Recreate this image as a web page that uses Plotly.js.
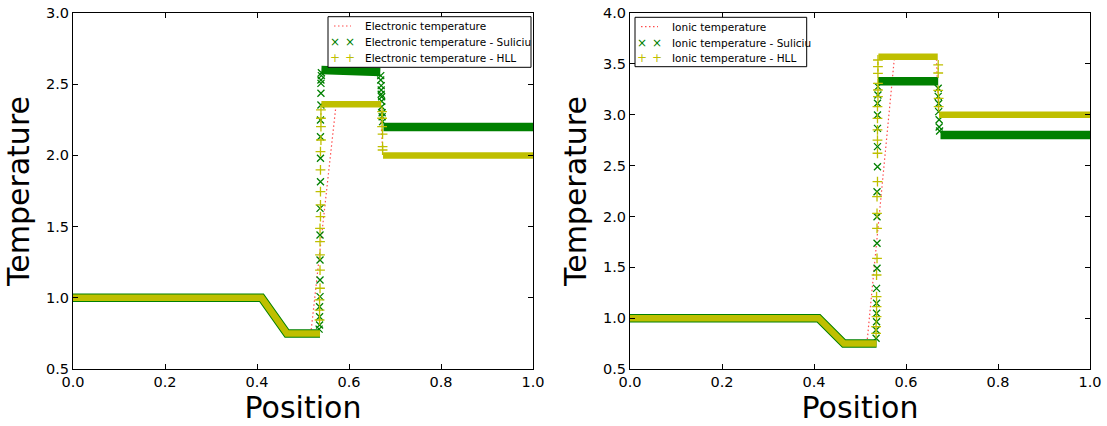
<!DOCTYPE html>
<html>
<head>
<meta charset="utf-8">
<script src="https://cdn.plot.ly/plotly-3.0.1.min.js"></script>
<style>html,body{margin:0;padding:0;background:#fff}#chart{width:1107px;height:426px}</style>
</head>
<body>
<div id="chart"></div>
<script>
// ---------- Left panel: electronic temperature ----------
// exact solution (dotted red)
const elecExactX = [0, 0.41, 0.465, 0.517, 0.572, 0.667, 0.674, 1.0];
const elecExactY = [1.0, 1.0, 0.75, 0.75, 2.36, 2.36, 2.0, 2.0];
// Suliciu plateaus (dense band of markers)
const elecSulBandX = [0, 0.41, 0.465, 0.537, null, 0.540, 0.668, null, 0.675, 1.0];
const elecSulBandY = [1.0, 1.0, 0.75, 0.75, null, 2.60, 2.585, null, 2.2, 2.2];
// Suliciu isolated points in jumps
const elecSulPtsX = [0.535, 0.536, 0.536, 0.536, 0.537, 0.537, 0.537, 0.537, 0.537, 0.538, 0.538, 0.538, 0.538, 0.539, 0.539, 0.539, 0.539, 0.540, 0.540,
                     0.669, 0.669, 0.670, 0.670, 0.670, 0.671, 0.671, 0.671, 0.672, 0.672, 0.673];
const elecSulPtsY = [0.78, 0.809, 0.867, 0.937, 1.008, 1.125, 1.265, 1.441, 1.628, 1.815, 1.980, 2.131, 2.249, 2.354, 2.436, 2.506, 2.529, 2.56, 2.58,
                     2.56, 2.529, 2.49, 2.459, 2.43, 2.412, 2.38, 2.342, 2.30, 2.272, 2.237];
// HLL plateaus
const elecHllBandX = [0, 0.41, 0.465, 0.537, null, 0.540, 0.670, null, 0.674, 1.0];
const elecHllBandY = [1.0, 1.0, 0.75, 0.75, null, 2.36, 2.36, null, 2.0, 2.0];
const elecHllPtsX = [0.536, 0.536, 0.536, 0.537, 0.537, 0.537, 0.537, 0.537, 0.538, 0.538, 0.538, 0.538, 0.538, 0.539, 0.539, 0.539, 0.539,
                     0.672, 0.672, 0.672, 0.673, 0.673, 0.673];
const elecHllPtsY = [0.844, 0.914, 0.985, 1.067, 1.195, 1.301, 1.394, 1.488, 1.570, 1.652, 1.745, 1.898, 2.026, 2.108, 2.202, 2.261, 2.319,
                     2.308, 2.261, 2.202, 2.15, 2.062, 2.038];

// ---------- Right panel: ionic temperature ----------
const ionExactX = [0, 0.41, 0.465, 0.515, 0.575, 0.666, 0.671, 1.0];
const ionExactY = [1.0, 1.0, 0.75, 0.75, 3.57, 3.57, 3.0, 3.0];
const ionSulBandX = [0, 0.41, 0.465, 0.536, null, 0.539, 0.670, null, 0.675, 1.0];
const ionSulBandY = [1.0, 1.0, 0.75, 0.75, null, 3.33, 3.33, null, 2.80, 2.80];
const ionSulPtsX = [0.535, 0.535, 0.536, 0.536, 0.536, 0.536, 0.537, 0.537, 0.537, 0.537, 0.538, 0.538, 0.538, 0.538, 0.538, 0.539, 0.539,
                    0.670, 0.670, 0.671, 0.671, 0.672, 0.672, 0.673];
const ionSulPtsY = [0.802, 0.883, 0.965, 1.048, 1.146, 1.293, 1.490, 1.736, 1.997, 2.243, 2.489, 2.686, 2.866, 2.997, 3.112, 3.194, 3.276,
                    3.26, 3.18, 3.11, 3.03, 2.95, 2.88, 2.84];
const ionHllBandX = [0, 0.41, 0.465, 0.536, null, 0.540, 0.669, null, 0.672, 1.0];
const ionHllBandY = [1.0, 1.0, 0.75, 0.75, null, 3.57, 3.57, null, 3.0, 3.0];
const ionHllPtsX = [0.535, 0.535, 0.536, 0.536, 0.536, 0.536, 0.537, 0.537, 0.537, 0.537, 0.538, 0.538, 0.538, 0.538, 0.538, 0.538, 0.539, 0.539, 0.539, 0.539, 0.539, 0.539,
                    0.670, 0.670, 0.670, 0.671, 0.671];
const ionHllPtsY = [0.851, 0.916, 1.014, 1.113, 1.211, 1.424, 1.588, 1.883, 2.031, 2.194, 2.342, 2.621, 2.751, 2.850, 2.964, 3.079, 3.177, 3.243, 3.309, 3.407, 3.472, 3.538,
                    3.49, 3.41, 3.24, 3.16, 3.08];

const elecNames = ['Electronic temperature', 'Electronic temperature - Suliciu', 'Electronic temperature - HLL'];
const ionNames = ['Ionic temperature', 'Ionic temperature - Suliciu', 'Ionic temperature - HLL'];
const xTicks = [0, 0.2, 0.4, 0.6, 0.8, 1.0];

const GREEN = '#008000', YEL = '#bfbf00', RED = 'rgba(255,0,0,0.7)';
const DOT = '1.5px,2.5px';

function panel(xa, ya, exX, exY, sbX, sbY, spX, spY, hbX, hbY, hpX, hpY, nm) {
  return [
    {x: exX, y: exY, xaxis: xa, yaxis: ya, name: nm[0], mode: 'lines', showlegend: false,
     line: {color: RED, width: 1.2, dash: DOT}},
    {x: sbX, y: sbY, xaxis: xa, yaxis: ya, name: nm[1], mode: 'lines', showlegend: false, hoverinfo: 'skip',
     line: {color: GREEN, width: 8.5}},
    {x: spX, y: spY, xaxis: xa, yaxis: ya, name: nm[1], mode: 'markers', showlegend: false,
     marker: {symbol: 'x-thin', size: 7, color: GREEN, line: {color: GREEN, width: 1.3}}},
    {x: hbX, y: hbY, xaxis: xa, yaxis: ya, name: nm[2], mode: 'lines', showlegend: false, hoverinfo: 'skip',
     line: {color: YEL, width: 6.5}},
    {x: hpX, y: hpY, xaxis: xa, yaxis: ya, name: nm[2], mode: 'markers', showlegend: false,
     marker: {symbol: 'cross-thin', size: 7, color: YEL, line: {color: YEL, width: 1.3}}}
  ];
}

const data = [
  ...panel('x', 'y', elecExactX, elecExactY, elecSulBandX, elecSulBandY, elecSulPtsX, elecSulPtsY,
           elecHllBandX, elecHllBandY, elecHllPtsX, elecHllPtsY, elecNames),
  ...panel('x2', 'y2', ionExactX, ionExactY, ionSulBandX, ionSulBandY, ionSulPtsX, ionSulPtsY,
           ionHllBandX, ionHllBandY, ionHllPtsX, ionHllPtsY, ionNames)
];

const FONT = 'DejaVu Sans, sans-serif';
function xax(domain, anchor) {
  return {domain: domain, anchor: anchor, range: [0, 1], tickvals: xTicks, tickformat: '.1f',
    showline: true, linecolor: '#000', linewidth: 1, mirror: 'ticks', ticks: 'inside', ticklen: 5,
    tickcolor: '#000', showgrid: false, zeroline: false, automargin: false,
    tickfont: {family: FONT, size: 14.5, color: '#000'},
    title: {text: 'Position', font: {family: FONT, size: 30, color: '#000'}, standoff: 4}};
}
function yax(domain, anchor, range) {
  return {domain: domain, anchor: anchor, range: range, dtick: 0.5, tickformat: '.1f',
    showline: true, linecolor: '#000', linewidth: 1, mirror: 'ticks', ticks: 'inside', ticklen: 5,
    tickcolor: '#000', showgrid: false, zeroline: false, automargin: false,
    tickfont: {family: FONT, size: 14.5, color: '#000'},
    title: {text: 'Temperature', font: {family: FONT, size: 30, color: '#000'}, standoff: 7}};
}
const yDom = [57 / 426, 413 / 426];

// matplotlib-style legend box (two key markers per entry), placed in paper coordinates
const W = 1107, H = 426;
const shapes = [], annotations = [];
function legendBox(x0, y0, x1, y1, labels) {
  shapes.push({type: 'rect', xref: 'paper', yref: 'paper', x0: x0 / W, x1: x1 / W, y0: 1 - y0 / H, y1: 1 - y1 / H,
    fillcolor: '#fff', line: {color: '#000', width: 1}, layer: 'above'});
  const rows = [y0 + 9.3, y0 + 25.6, y0 + 41];
  shapes.push({type: 'line', xref: 'paper', yref: 'paper', x0: (x0 + 6) / W, x1: (x0 + 23) / W,
    y0: 1 - rows[0] / H, y1: 1 - rows[0] / H, line: {color: RED, width: 1.2, dash: DOT}, layer: 'above'});
  const keys = [null, {t: '×', c: GREEN}, {t: '+', c: YEL}];
  labels.forEach((lab, i) => {
    annotations.push({xref: 'paper', yref: 'paper', x: (x0 + 34.5) / W, y: 1 - rows[i] / H,
      xanchor: 'left', yanchor: 'middle', showarrow: false, text: lab,
      font: {family: FONT, size: 10.5, color: '#000'}});
    if (keys[i]) {
      [7, 22].forEach(dx => annotations.push({xref: 'paper', yref: 'paper', x: (x0 + dx) / W, y: 1 - rows[i] / H,
        xanchor: 'center', yanchor: 'middle', showarrow: false, text: keys[i].t,
        font: {family: FONT, size: 12, color: keys[i].c}}));
    }
  });
}
legendBox(328, 16.7, 531, 67.3, elecNames);
legendBox(635, 17.3, 806.7, 66.7, ionNames);

const layout = {
  width: W, height: H,
  margin: {l: 0, r: 0, t: 0, b: 0},
  paper_bgcolor: '#fff', plot_bgcolor: '#fff',
  showlegend: false,
  xaxis: xax([73 / W, 533 / W], 'y'),
  yaxis: yax(yDom, 'x', [0.5, 3.0]),
  xaxis2: xax([630 / W, 1090 / W], 'y2'),
  yaxis2: yax(yDom, 'x2', [0.5, 4.0]),
  shapes: shapes,
  annotations: annotations
};

Plotly.newPlot('chart', data, layout, {staticPlot: true, displayModeBar: false});
</script>
</body>
</html>
